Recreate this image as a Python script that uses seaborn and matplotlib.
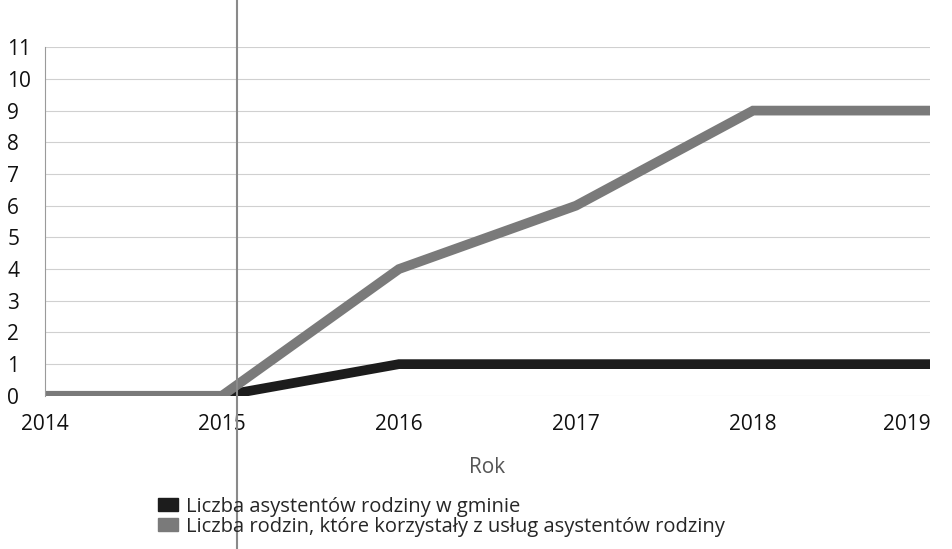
import pandas as pd
import matplotlib.pyplot as plt
import matplotlib.patches as mpatches
import seaborn as sns

# Data
years = [2014, 2015, 2016, 2017, 2018, 2019]
asystenci = [0, 0, 1, 1, 1, 1]
rodziny = [0, 0, 4, 6, 9, 9]
series_names = ['Liczba asystentów rodziny w gminie',
                'Liczba rodzin, które korzystały z usług asystentów rodziny']
colors = ['#1c1c1c', '#7a7a7a']

df = pd.DataFrame({
    'Rok': years * 2,
    'value': asystenci + rodziny,
    'seria': [series_names[0]] * len(years) + [series_names[1]] * len(years),
})

sns.set_theme(style='white')
plt.rcParams['font.family'] = ['Open Sans', 'DejaVu Sans']

fig = plt.figure(figsize=(9.53, 5.49), dpi=100)
ax = fig.add_axes([0.047, 0.279, 0.929, 0.635])

sns.lineplot(data=df, x='Rok', y='value', hue='seria', palette=colors,
             linewidth=7, legend=False, ax=ax, solid_joinstyle='miter')

ax.set_xlim(2014, 2019)
ax.set_ylim(0, 11)
ax.set_yticks(range(0, 12))
ax.set_xticks(years)
ax.yaxis.grid(True, color='#d0d0d0', linewidth=0.8)
ax.set_axisbelow(True)
for s in ['top', 'right', 'bottom']:
    ax.spines[s].set_visible(False)
ax.spines['left'].set_color('#9a9a9a')
ax.spines['left'].set_linewidth(0.8)
ax.tick_params(axis='y', length=0, labelsize=15, pad=27, labelcolor='#111111')
ax.tick_params(axis='x', length=0, labelsize=15, pad=13, labelcolor='#111111')
for lbl in ax.get_yticklabels():
    lbl.set_horizontalalignment('left')
ax.get_xticklabels()[-1].set_horizontalalignment('right')
ax.set_ylabel('')
ax.set_xlabel('Rok', fontsize=15, color='#555555', labelpad=16)

handles = [mpatches.Patch(color=c, label=n) for c, n in zip(colors, series_names)]
fig.legend(handles=handles, loc='upper left', bbox_to_anchor=(0.157, 0.11),
           frameon=False, fontsize=14.5, handlelength=1.0, handleheight=0.55,
           handletextpad=0.4, labelspacing=0.0, borderaxespad=0)

# scanning artifact: vertical fold line across the page
fig.add_artist(plt.Line2D([0.249, 0.249], [0, 1], color='#8a8a8a', linewidth=1.5,
                          transform=fig.transFigure))

fig.savefig('out.png', dpi=100)
